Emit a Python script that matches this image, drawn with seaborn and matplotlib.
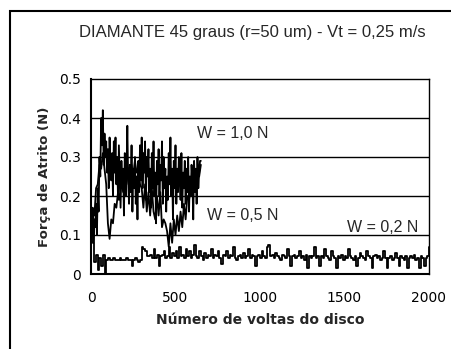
import matplotlib
matplotlib.use("Agg")
import matplotlib.pyplot as plt
from matplotlib.patches import Rectangle
from matplotlib.ticker import MultipleLocator
import numpy as np
import pandas as pd
import seaborn as sns

# Data
# W = 1,0 N : every 5 revolutions, 0..650
w10 = [0.15, 0.10, 0.17, 0.08, 0.14, 0.12, 0.18, 0.10, 0.22, 0.16,
       0.30, 0.25, 0.40, 0.33, 0.42, 0.28, 0.36, 0.30, 0.34, 0.26,
       0.32, 0.22, 0.35, 0.27, 0.24, 0.31, 0.20, 0.34, 0.26, 0.35,
       0.23, 0.30, 0.19, 0.33, 0.25, 0.17, 0.29, 0.22, 0.27, 0.15,
       0.31, 0.20, 0.26, 0.38, 0.24, 0.18, 0.28, 0.21, 0.33, 0.16,
       0.27, 0.22, 0.30, 0.18, 0.25, 0.14, 0.29, 0.21, 0.33, 0.24,
       0.35, 0.22, 0.31, 0.26, 0.34, 0.19, 0.30, 0.25, 0.32, 0.21,
       0.27, 0.17, 0.31, 0.22, 0.34, 0.20, 0.26, 0.13, 0.29, 0.23,
       0.32, 0.20, 0.28, 0.24, 0.34, 0.18, 0.30, 0.22, 0.27, 0.16,
       0.25, 0.19, 0.31, 0.23, 0.35, 0.20, 0.27, 0.14, 0.29, 0.22,
       0.33, 0.18, 0.27, 0.21, 0.30, 0.25, 0.19, 0.31, 0.17, 0.26,
       0.22, 0.29, 0.18, 0.27, 0.21, 0.30, 0.16, 0.25, 0.20, 0.28,
       0.24, 0.14, 0.29, 0.21, 0.27, 0.18, 0.30, 0.22, 0.26, 0.29,
       0.29]
# W = 0,5 N : every 10 revolutions, 0..650
w05 = [0.12, 0.16, 0.15, 0.22, 0.23, 0.28, 0.27, 0.31, 0.27, 0.23,
       0.13, 0.09, 0.14, 0.13, 0.18, 0.17, 0.21, 0.19, 0.24, 0.21,
       0.26, 0.23, 0.27, 0.24, 0.28, 0.25, 0.29, 0.26, 0.27, 0.23,
       0.22, 0.17, 0.23, 0.16, 0.21, 0.15, 0.22, 0.16, 0.14, 0.20,
       0.15, 0.21, 0.12, 0.14, 0.13, 0.11, 0.07, 0.13, 0.08, 0.14,
       0.10, 0.15, 0.11, 0.16, 0.12, 0.18, 0.14, 0.20, 0.19, 0.22,
       0.21, 0.25, 0.22, 0.27, 0.25, 0.28]
# W = 0,2 N : every 10 revolutions, 0..2000
w02 = [0.15, 0.08, 0.03, 0.05, 0.01, 0.04, 0.02, 0.05, 0.0, 0.035,
       0.04, 0.035, 0.035, 0.04, 0.035, 0.035, 0.035, 0.04, 0.035, 0.035,
       0.035, 0.04, 0.035, 0.035, 0.02, 0.035, 0.04, 0.035, 0.03, 0.035,
       0.07, 0.065, 0.06, 0.045, 0.045, 0.05, 0.04, 0.065, 0.04, 0.05,
       0.02, 0.045, 0.05, 0.06, 0.04, 0.045, 0.07, 0.04, 0.055, 0.045,
       0.06, 0.04, 0.07, 0.045, 0.05, 0.04, 0.065, 0.045, 0.06, 0.04,
       0.05, 0.075, 0.045, 0.04, 0.06, 0.045, 0.035, 0.055, 0.04, 0.05,
       0.045, 0.065, 0.04, 0.05, 0.045, 0.06, 0.04, 0.025, 0.05, 0.045,
       0.06, 0.04, 0.05, 0.045, 0.07, 0.04, 0.035, 0.045, 0.05, 0.04,
       0.055, 0.04, 0.045, 0.065, 0.04, 0.05, 0.045, 0.02, 0.045, 0.05,
       0.04, 0.06, 0.045, 0.04, 0.07, 0.075, 0.045, 0.05, 0.04, 0.055,
       0.045, 0.04, 0.035, 0.05, 0.045, 0.04, 0.065, 0.045, 0.02, 0.045,
       0.05, 0.04, 0.045, 0.06, 0.04, 0.045, 0.035, 0.05, 0.015, 0.045,
       0.04, 0.045, 0.07, 0.04, 0.045, 0.02, 0.045, 0.04, 0.065, 0.045,
       0.04, 0.035, 0.06, 0.045, 0.04, 0.015, 0.045, 0.04, 0.05, 0.035,
       0.045, 0.04, 0.065, 0.045, 0.04, 0.035, 0.045, 0.02, 0.04, 0.055,
       0.045, 0.04, 0.035, 0.06, 0.045, 0.04, 0.015, 0.045, 0.05, 0.04,
       0.045, 0.035, 0.04, 0.06, 0.04, 0.015, 0.04, 0.045, 0.035, 0.04,
       0.055, 0.04, 0.02, 0.045, 0.04, 0.035, 0.045, 0.015, 0.04, 0.045,
       0.04, 0.05, 0.035, 0.04, 0.015, 0.045, 0.04, 0.02, 0.04, 0.045,
       0.07]
x_ticks = [0, 500, 1000, 1500, 2000]
y_ticks = [0, 0.1, 0.2, 0.3, 0.4, 0.5]
y_tick_labels = ["0", "0.1", "0.2", "0.3", "0.4", "0.5"]
labels = ["W = 1,0 N", "W = 0,5 N", "W = 0,2 N"]

df10 = pd.DataFrame({"voltas": np.arange(len(w10)) * 5, "F": w10})
df05 = pd.DataFrame({"voltas": np.arange(len(w05)) * 10, "F": w05})
df02 = pd.DataFrame({"voltas": np.arange(len(w02)) * 10, "F": w02})

sns.set_style("white")
plt.rcParams['font.family'] = ['DejaVu Sans']

fig = plt.figure(figsize=(4.51, 3.49), dpi=100)
ax = fig.add_axes([91/451, 75/349, 338/451, 195/349])

sns.lineplot(data=df10, x="voltas", y="F", ax=ax, color="black", lw=1.3, sort=False, estimator=None)
sns.lineplot(data=df05, x="voltas", y="F", ax=ax, color="black", lw=1.3, sort=False, estimator=None)
sns.lineplot(data=df02, x="voltas", y="F", ax=ax, color="black", lw=1.3, sort=False,
             estimator=None, drawstyle="steps-post")

ax.set_xlim(0, 2000)
ax.set_ylim(0, 0.5)
ax.set_xticks(x_ticks)
ax.set_yticks(y_ticks)
ax.set_yticklabels(y_tick_labels)
ax.xaxis.set_minor_locator(MultipleLocator(100))
ax.yaxis.set_minor_locator(MultipleLocator(0.05))
ax.tick_params(which="major", direction="out", length=4, width=1, colors="black",
               labelsize=10, pad=3)
ax.tick_params(which="minor", direction="in", length=3, width=1, colors="black")
ax.tick_params(axis="x", pad=8)
for yv in y_ticks[1:-1]:
    ax.axhline(yv, color="black", lw=1, zorder=0)
for s in ax.spines.values():
    s.set_color("black")
    s.set_linewidth(1)
ax.spines["left"].set_linewidth(1.5)
ax.spines["bottom"].set_linewidth(1.5)

ax.set_xlabel("Número de voltas do disco", fontsize=10, fontweight="bold", labelpad=6)
ax.set_ylabel("Força de Atrito (N)", fontsize=9.5, fontweight="bold", labelpad=6)

ann = dict(fontsize=11.5, family="Liberation Sans", va="center", ha="left")
ax.text(627, 0.359, labels[0], **ann)
ax.text(686, 0.149, labels[1], **ann)
ax.text(1515, 0.118, labels[2], **ann)

fig.text(252/451, 1 - 32/349, "DIAMANTE 45 graus (r=50 um) - Vt = 0,25 m/s",
         fontsize=12, family="Liberation Sans", ha="center", va="center")

fig.patches.append(Rectangle((10/451, -0.05), 1.0, 1 - 11/349 + 0.05,
                             transform=fig.transFigure, fill=False,
                             edgecolor="black", lw=1.5))

fig.savefig("out.png", dpi=100)
